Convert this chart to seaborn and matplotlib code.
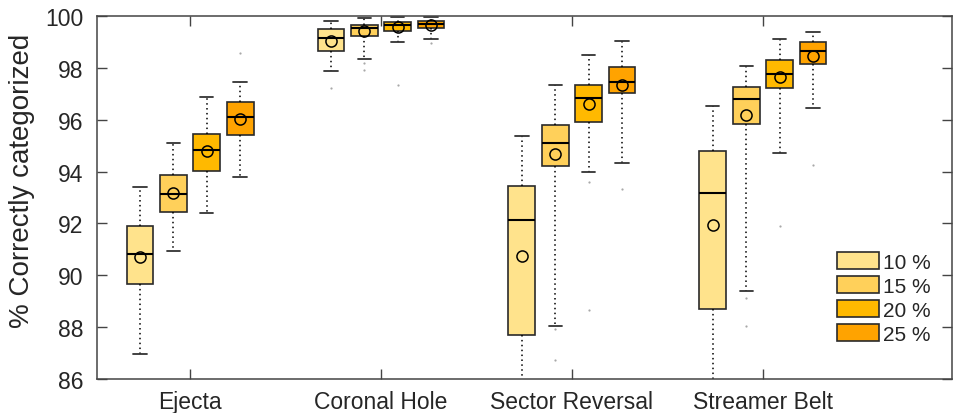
import matplotlib
matplotlib.use("Agg")
import matplotlib.pyplot as plt
import seaborn as sns
import pandas as pd

categories = ["Ejecta", "Coronal Hole", "Sector Reversal", "Streamer Belt"]
levels = ["10 %", "15 %", "20 %", "25 %"]
colors = ["#FFE38C", "#FFD05A", "#FFB900", "#FFA300"]

# five-number summaries, one list per level (order = categories)
whislo = {
    "10 %": [86.97, 97.88, 85.50, 85.50],
    "15 %": [90.93, 98.35, 88.06, 89.39],
    "20 %": [92.40, 99.00, 93.97, 94.72],
    "25 %": [93.80, 99.10, 94.34, 96.45],
}
q1 = {
    "10 %": [89.65, 98.64, 87.71, 88.70],
    "15 %": [92.43, 99.24, 94.20, 95.85],
    "20 %": [94.01, 99.42, 95.92, 97.24],
    "25 %": [95.42, 99.53, 97.02, 98.14],
}
median = {
    "10 %": [90.81, 99.15, 92.14, 93.16],
    "15 %": [93.14, 99.54, 95.11, 96.80],
    "20 %": [94.82, 99.64, 96.84, 97.76],
    "25 %": [96.10, 99.70, 97.45, 98.64],
}
q3 = {
    "10 %": [91.89, 99.49, 93.46, 94.81],
    "15 %": [93.88, 99.65, 95.81, 97.25],
    "20 %": [95.45, 99.77, 97.35, 98.29],
    "25 %": [96.70, 99.80, 98.02, 98.99],
}
whishi = {
    "10 %": [93.39, 99.81, 95.38, 96.54],
    "15 %": [95.10, 99.91, 97.35, 98.07],
    "20 %": [96.86, 99.95, 98.51, 99.10],
    "25 %": [97.45, 99.97, 99.02, 99.39],
}
means = {
    "10 %": [90.69, 99.05, 90.76, 91.94],
    "15 %": [93.17, 99.41, 94.67, 96.19],
    "20 %": [94.79, 99.58, 96.61, 97.64],
    "25 %": [96.02, 99.64, 97.35, 98.47],
}

# outliers
out_cat = ["Ejecta", "Coronal Hole", "Coronal Hole", "Coronal Hole", "Coronal Hole",
           "Coronal Hole", "Sector Reversal", "Sector Reversal", "Sector Reversal",
           "Sector Reversal", "Sector Reversal", "Streamer Belt", "Streamer Belt",
           "Streamer Belt", "Streamer Belt"]
out_level = ["25 %", "10 %", "15 %", "15 %", "20 %",
             "25 %", "15 %", "15 %", "20 %",
             "20 %", "25 %", "15 %", "15 %",
             "20 %", "25 %"]
out_value = [98.57, 97.21, 98.19, 97.92, 97.33,
             98.95, 87.93, 86.73, 93.60,
             88.67, 93.33, 89.14, 88.06,
             91.91, 94.27]

rows = []
for lev in levels:
    for i, cat in enumerate(categories):
        for stat in (whislo, q1, median, q3, whishi):
            rows.append({"category": cat, "level": lev, "value": stat[lev][i]})
box_df = pd.DataFrame(rows)

mean_df = pd.DataFrame([
    {"category": cat, "level": lev, "value": means[lev][i]}
    for lev in levels for i, cat in enumerate(categories)
])

out_df = pd.DataFrame({"category": out_cat, "level": out_level, "value": out_value})
out_df["rank"] = out_df.groupby(["category", "level"]).cumcount()

sns.set_style("ticks")
plt.rcParams["font.family"] = ["Liberation Sans", "DejaVu Sans"]

fig = plt.figure(figsize=(9.56, 4.14), dpi=100)
ax = fig.add_axes([0.1015, 0.082, 0.8943, 0.877])

sns.boxplot(
    data=box_df, x="category", y="value", hue="level",
    order=categories, hue_order=levels, palette=colors, saturation=1,
    width=0.7, gap=0.2, whis=(0, 100), showfliers=False,
    linecolor="#2a2a2a", linewidth=1.2,
    whiskerprops=dict(linestyle=(0, (1, 2.2)), color="black", linewidth=1.1),
    capprops=dict(color="#333333", linewidth=1.3),
    medianprops=dict(color="black", linewidth=1.5),
    ax=ax,
)

for r in sorted(out_df["rank"].unique()):
    sns.pointplot(
        data=out_df[out_df["rank"] == r], x="category", y="value", hue="level",
        order=categories, hue_order=levels, palette=["#a8a8a8"] * 4,
        dodge=0.525, errorbar=None, linestyle="none", markers="o",
        markersize=1.6, markeredgewidth=0, legend=False, ax=ax,
    )

sns.pointplot(
    data=mean_df, x="category", y="value", hue="level",
    order=categories, hue_order=levels, palette=colors,
    dodge=0.525, errorbar=None, linestyle="none", markers="o",
    markersize=8, markerfacecolor="none", markeredgecolor="black",
    markeredgewidth=1.1, legend=False, ax=ax,
)

ax.set_xlim(-0.487, 3.99)
ax.set_ylim(86, 100)
ax.set_yticks(range(86, 101, 2))
ax.set_xlabel("")
ax.set_ylabel("% Correctly categorized", fontsize=20)
ax.yaxis.set_label_coords(-0.0725, 0.548)
ax.tick_params(axis="both", direction="in", length=7, width=1, color="#444444",
               labelsize=16.5, top=True, right=True)
ax.tick_params(axis="y", pad=10)
ax.tick_params(axis="x", pad=8)
for sp in ax.spines.values():
    sp.set_visible(True)
    sp.set_color("#444444")
    sp.set_linewidth(1.1)

sns.move_legend(
    ax, "lower right", bbox_to_anchor=(0.985, 0.074), frameon=False, title=None,
    fontsize=15, handlelength=2.0, handleheight=0.9, labelspacing=0.2,
    handletextpad=0.2, borderaxespad=0,
)

fig.savefig("out.png", dpi=100)
